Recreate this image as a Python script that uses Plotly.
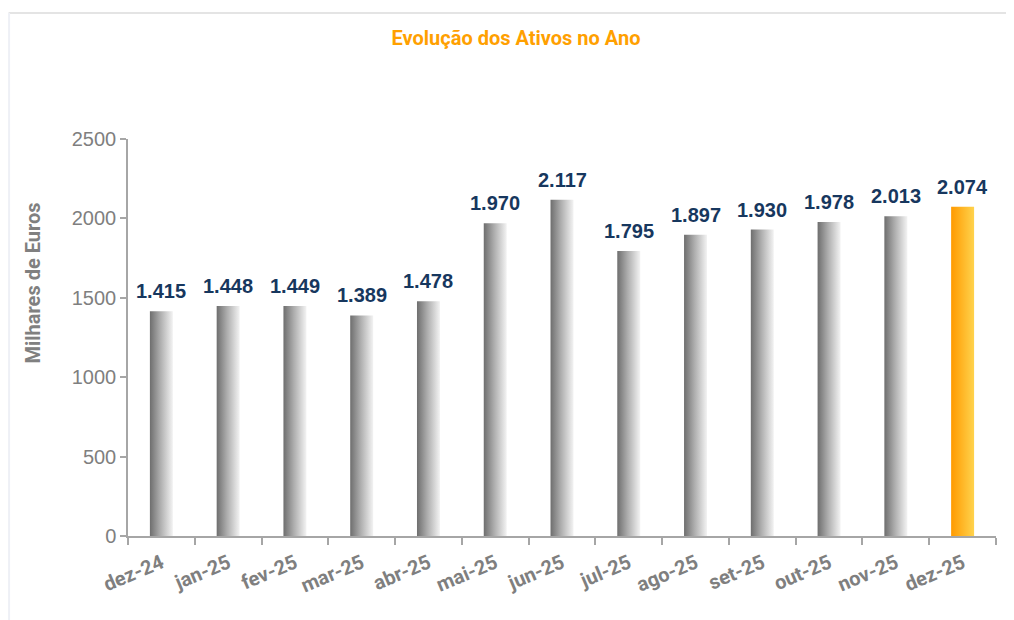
import plotly.graph_objects as go

months = ["dez-24", "jan-25", "fev-25", "mar-25", "abr-25", "mai-25", "jun-25",
          "jul-25", "ago-25", "set-25", "out-25", "nov-25", "dez-25"]
assets = [1415, 1448, 1449, 1389, 1478, 1970, 2117, 1795, 1897, 1930, 1978, 2013, 2074]
labels = ["1.415", "1.448", "1.449", "1.389", "1.478", "1.970", "2.117",
          "1.795", "1.897", "1.930", "1.978", "2.013", "2.074"]

HALF = 0.172
GRAY = [[0, "#6e6e6e"], [0.45, "#adadad"], [1, "#f3f3f3"]]
ORANGE = [[0, "#ff9a00"], [1, "#ffd34d"]]

# page is drawn with an 8px body offset; figure coordinates below are page - 8
W, H = 1006, 612
PL, PR, PT, PB = 119.5, 988.0, 131.0, 528.0  # plot area in figure px
PW, PH = PR - PL, PB - PT

fig = go.Figure()
n = len(months)
for i, (m, v) in enumerate(zip(months, assets)):
    cs = ORANGE if i == n - 1 else GRAY
    fig.add_trace(go.Scatter(
        x=[i - HALF, i + HALF, i + HALF, i - HALF, i - HALF],
        y=[0, 0, v, v, 0],
        mode="lines", line=dict(width=0), fill="toself",
        fillgradient=dict(type="horizontal", colorscale=cs),
        hoverinfo="skip", showlegend=False,
    ))
    fig.add_annotation(x=i, y=v, text=labels[i], showarrow=False,
                       yanchor="bottom", yshift=7,
                       font=dict(family="Liberation Sans", size=20, color="#17375e", weight="bold"))

axis_gray = "#a6a6a6"
fig.update_layout(
    width=W, height=H,
    margin=dict(l=PL, r=W - PR, t=PT, b=H - PB),
    paper_bgcolor="white", plot_bgcolor="white",
    title=dict(text="<b>Evolução dos Ativos no Ano</b>", x=(516 - 8) / W, xanchor="center",
               y=1 - (38 - 8) / H, yanchor="middle",
               font=dict(family="Roboto, sans-serif", size=20, color="#ffa000")),
    xaxis=dict(range=[-0.5, n - 0.5], tickvals=list(range(n)), ticktext=months,
               tickangle=-23, ticks="", showgrid=False, zeroline=False,
               showline=True, linecolor=axis_gray, linewidth=1.5, ticklabelstandoff=6,
               tickfont=dict(family="Roboto, sans-serif", size=20, color="#7f7f7f", weight="bold"),
               minor=dict(tickvals=[k - 0.5 for k in range(n + 1)], ticks="outside",
                          ticklen=7, tickcolor=axis_gray, tickwidth=1.5, showgrid=False)),
    yaxis=dict(range=[0, 2500], dtick=500, showgrid=False, zeroline=False,
               showline=True, linecolor=axis_gray, linewidth=1.5,
               ticks="outside", ticklen=6, tickcolor=axis_gray, tickwidth=1.5,
               tickfont=dict(family="Liberation Sans, sans-serif", size=20, color="#7f7f7f")),
)
fig.add_annotation(xref="paper", yref="paper", x=(32 - 8 - PL) / PW, y=(PB - (283 - 8)) / PH,
                   xanchor="center", yanchor="middle",
                   text="<b>Milhares de Euros</b>", textangle=-90, showarrow=False,
                   font=dict(family="Roboto, sans-serif", size=20, color="#808080"))
# outer frame
fy = (PB - (13 - 8)) / PH
fig.add_shape(type="line", xref="paper", yref="paper",
              x0=(0 - PL) / PW, x1=(W + 10 - PL) / PW, y0=fy, y1=fy,
              line=dict(color="#e4e4e4", width=2))
fig.add_shape(type="line", xref="paper", yref="paper",
              x0=(0.5 - PL) / PW, x1=(0.5 - PL) / PW, y0=fy, y1=(PB - H - 10) / PH,
              line=dict(color="#eef0f6", width=2))

fig.write_html("out.html")
